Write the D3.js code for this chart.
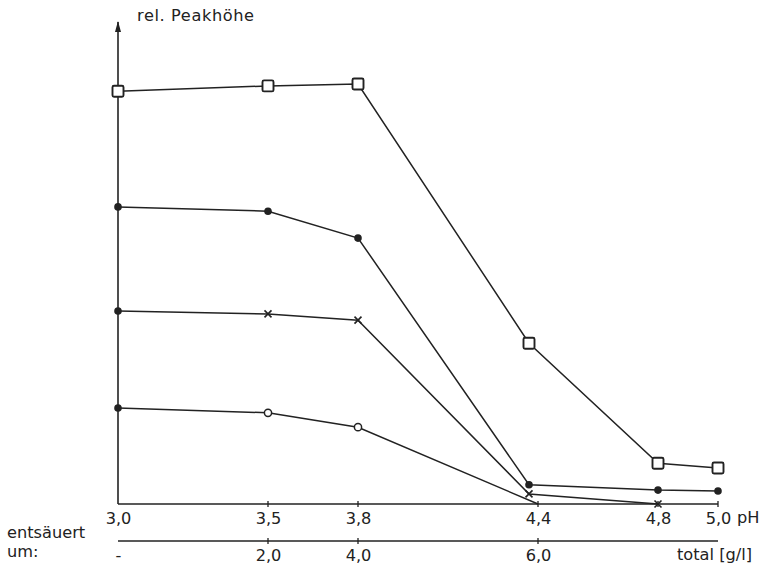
<!DOCTYPE html>
<html>
<head>
<meta charset="utf-8">
<script src="https://cdn.jsdelivr.net/npm/d3@7"></script>
<style>
    body { margin: 0; background: #fff; }
    text { font-family: "DejaVu Sans", sans-serif; fill: #222; }
</style>
</head>
<body>
<div id="chart"></div>
<script>
// pH steps on the lower axis and the acid removed ("entsäuert um") at each
const phTicks = [3.0, 3.5, 3.8, 4.4, 4.8, 5.0];
const acidTicks = [3.0, 3.5, 3.8, 4.4];
const acidLabels = ["-", "2,0", "4,0", "6,0"];

// relative peak heights (pH, height)
const squareSeries = [[3.0, 86.0], [3.5, 87.1], [3.8, 87.5], [4.37, 33.5], [4.8, 8.5], [5.0, 7.5]];
const dotSeries = [[3.0, 61.9], [3.5, 61.0], [3.8, 55.4], [4.37, 4.0], [4.8, 2.9], [5.0, 2.7]];
const crossSeries = [[3.0, 40.2], [3.5, 39.6], [3.8, 38.3], [4.37, 2.1], [4.8, 0]];
const circleSeries = [[3.0, 20.0], [3.5, 19.0], [3.8, 16.0], [4.4, 0]];

class PeakVis {
    constructor(_parentElement) {
        this.parentElement = _parentElement;
        this.initVis();
    }

    initVis() {
        let vis = this;

        vis.margin = { top: 24, right: 44, bottom: 61, left: 118 };
        vis.width = 762 - vis.margin.left - vis.margin.right;
        vis.height = 565 - vis.margin.top - vis.margin.bottom;
        vis.fontSize = 16.2;

        vis.svg = d3.select("#" + vis.parentElement).append("svg")
            .attr("width", 762)
            .attr("height", 565)
            .append("g")
            .attr("transform", "translate(" + vis.margin.left + "," + vis.margin.top + ")");

        vis.x = d3.scaleLinear().domain([3.0, 5.0]).range([0, vis.width]);
        vis.y = d3.scaleLinear().domain([0, 100]).range([vis.height, 0]);

        vis.ink = "#222";

        // y axis with arrow head
        vis.svg.append("line")
            .attr("x1", 0).attr("x2", 0)
            .attr("y1", vis.height).attr("y2", -2)
            .attr("stroke", vis.ink).attr("stroke-width", 1.6);
        vis.svg.append("path")
            .attr("d", "M-3,8 L0,-3 L3,8 Z")
            .attr("fill", vis.ink);
        vis.svg.append("text")
            .attr("x", 19).attr("y", -3)
            .attr("font-size", vis.fontSize)
            .attr("letter-spacing", 0.6)
            .text("rel. Peakhöhe");

        // pH axis
        vis.pHAxis = d3.axisBottom(vis.x)
            .tickValues(phTicks)
            .tickSize(0)
            .tickPadding(8)
            .tickFormat(d => d3.format(".1f")(d).replace(".", ","));
        vis.drawAxis(vis.height, vis.pHAxis, phTicks);
        vis.svg.append("text")
            .attr("x", vis.x(5.0) + 19).attr("y", vis.height + 19)
            .attr("font-size", vis.fontSize)
            .text("pH");

        // acid axis
        vis.acidAxis = d3.axisBottom(vis.x)
            .tickValues(acidTicks)
            .tickSize(0)
            .tickPadding(8)
            .tickFormat((d, i) => acidLabels[i]);
        vis.drawAxis(vis.height + 37, vis.acidAxis, acidTicks);
        vis.svg.append("text")
            .attr("x", vis.x(5.0) + 34).attr("y", vis.height + 56)
            .attr("text-anchor", "end")
            .attr("font-size", vis.fontSize)
            .text("total [g/l]");

        vis.svg.append("text")
            .attr("x", -111).attr("y", vis.height + 34)
            .attr("font-size", vis.fontSize)
            .text("entsäuert");
        vis.svg.append("text")
            .attr("x", -111).attr("y", vis.height + 53)
            .attr("font-size", vis.fontSize)
            .text("um:");

        vis.updateVis();
    }

    drawAxis(yPos, axis, ticks) {
        let vis = this;
        let g = vis.svg.append("g")
            .attr("transform", "translate(0," + yPos + ")")
            .call(axis);
        g.select(".domain")
            .attr("d", "M0,0H" + vis.width)
            .attr("stroke", vis.ink).attr("stroke-width", 1.6);
        g.selectAll(".tick text")
            .attr("font-size", vis.fontSize)
            .attr("font-family", "'DejaVu Sans', sans-serif")
            .attr("fill", vis.ink);
        g.selectAll(".tick-mark")
            .data(ticks.filter(t => t > 3.0))
            .enter().append("line")
            .attr("x1", d => vis.x(d)).attr("x2", d => vis.x(d))
            .attr("y1", -3).attr("y2", 3)
            .attr("stroke", vis.ink).attr("stroke-width", 1.3);
    }

    updateVis() {
        let vis = this;

        const line = d3.line()
            .x(d => vis.x(d[0]))
            .y(d => vis.y(d[1]));

        [squareSeries, dotSeries, crossSeries, circleSeries].forEach(s => {
            vis.svg.append("path")
                .datum(s)
                .attr("fill", "none")
                .attr("stroke", vis.ink)
                .attr("stroke-width", 1.5)
                .attr("d", line);
        });

        // squares
        vis.svg.selectAll(".sq")
            .data(squareSeries)
            .enter().append("rect")
            .attr("x", d => vis.x(d[0]) - 5.5)
            .attr("y", d => vis.y(d[1]) - 5.5)
            .attr("width", 11).attr("height", 11)
            .attr("rx", 1.5)
            .attr("fill", "#fff")
            .attr("stroke", vis.ink).attr("stroke-width", 1.9);

        // filled dots (also the starting points on the y axis)
        let dots = dotSeries.concat([crossSeries[0], circleSeries[0]]);
        vis.svg.selectAll(".dot")
            .data(dots)
            .enter().append("circle")
            .attr("cx", d => vis.x(d[0]))
            .attr("cy", d => vis.y(d[1]))
            .attr("r", 3.8)
            .attr("fill", vis.ink);

        // crosses
        vis.svg.selectAll(".cross")
            .data(crossSeries.slice(1))
            .enter().append("path")
            .attr("transform", d => "translate(" + vis.x(d[0]) + "," + vis.y(d[1]) + ")")
            .attr("d", "M-3.5,-3.5L3.5,3.5M-3.5,3.5L3.5,-3.5")
            .attr("stroke", vis.ink).attr("stroke-width", 1.6);

        // open circles
        vis.svg.selectAll(".ring")
            .data(circleSeries.slice(1, 3))
            .enter().append("circle")
            .attr("cx", d => vis.x(d[0]))
            .attr("cy", d => vis.y(d[1]))
            .attr("r", 3.6)
            .attr("fill", "#fff")
            .attr("stroke", vis.ink).attr("stroke-width", 1.5);
    }
}

new PeakVis("chart");
</script>
</body>
</html>
